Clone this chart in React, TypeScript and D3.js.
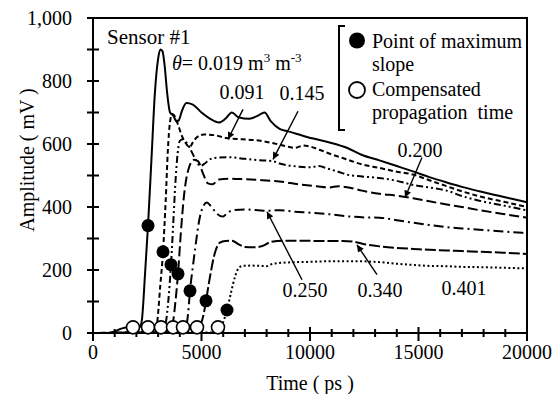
import React from 'react';
import * as d3 from 'd3';

// ---- data (time in ps, amplitude in mV) ----
const xTickLabels = [0, 5000, 10000, 15000, 20000];
const yTickLabels = [0, 200, 400, 600, 800, 1000];

const s019: [number, number][] = [[0,0],[600,0],[1000,5],[1300,14],[1700,18],[2150,18],[2250,40],[2400,190],[2535,341],[2700,560],[2850,760],[3000,870],[3100,900],[3200,895],[3300,850],[3420,760],[3550,700],[3700,690],[3850,672],[3950,675],[4100,705],[4300,730],[4600,725],[5000,700],[5400,680],[5800,668],[6100,680],[6400,700],[6700,685],[7200,680],[7600,690],[7900,700],[8200,672],[8600,648],[9000,640],[9400,632],[10100,618],[10900,605],[11700,588],[12400,565],[13200,548],[14000,530],[14750,513],[15500,495],[16300,478],[17000,464],[17800,450],[18600,437],[19300,426],[20000,415]];
const s091: [number, number][] = [[0,0],[1500,2],[2500,3],[2850,5],[2950,30],[3100,150],[3226,258],[3350,420],[3450,580],[3550,670],[3650,695],[3750,690],[3900,665],[4100,625],[4300,600],[4450,590],[4600,605],[4800,622],[5100,630],[5600,628],[6200,618],[6900,615],[7500,612],[7900,608],[8600,598],[9300,588],[9700,595],[10000,592],[10500,580],[11000,567],[11700,551],[12400,535],[13200,524],[14000,512],[14750,503],[15500,485],[16300,466],[17000,450],[17800,434],[18900,417],[20000,400]];
const s145: [number, number][] = [[0,0],[3200,2],[3350,30],[3480,110],[3594,217],[3700,350],[3800,480],[3900,570],[4000,610],[4150,615],[4350,600],[4550,575],[4750,548],[4950,530],[5150,538],[5400,552],[5800,557],[6300,558],[7000,553],[7600,549],[8300,545],[8600,538],[9500,528],[10000,526],[10400,530],[10800,522],[11300,512],[11700,503],[12400,497],[13200,492],[14000,483],[14750,470],[15500,462],[16300,452],[17000,435],[17800,420],[18900,405],[20000,389]];
const s200: [number, number][] = [[0,0],[3550,2],[3700,40],[3800,100],[3917,188],[4050,320],[4200,440],[4400,520],[4650,550],[4850,545],[5050,510],[5300,475],[5500,472],[5800,487],[6300,490],[7000,488],[7800,485],[8600,481],[9500,472],[10300,466],[10900,462],[11300,466],[11700,463],[12400,452],[13200,442],[14000,436],[14750,428],[15500,418],[16300,408],[17000,400],[17800,390],[18900,378],[20000,366]];
const s250: [number, number][] = [[0,0],[4200,2],[4300,20],[4380,60],[4470,134],[4600,210],[4700,264],[4930,370],[5100,405],[5250,414],[5400,405],[5600,388],[5850,372],[6000,370],[6200,382],[6500,390],[7000,392],[7600,390],[8000,388],[8600,390],[9300,385],[10000,382],[10900,377],[11800,370],[12500,367],[13200,366],[14000,358],[14750,350],[15500,343],[16300,336],[17000,332],[17800,328],[18900,322],[20000,317]];
const s340: [number, number][] = [[0,0],[4800,2],[4950,25],[5100,60],[5207,102],[5390,178],[5620,255],[5850,287],[6100,292],[6400,293],[6700,282],[7000,273],[7400,272],[7800,276],[8200,289],[8800,293],[9500,293],[10500,292],[11500,292],[12000,290],[12500,282],[13200,275],[14000,270],[14750,267],[15500,264],[16300,262],[17000,260],[17800,258],[18900,255],[20000,251]];
const s401: [number, number][] = [[0,0],[5600,2],[5850,10],[6000,35],[6175,73],[6350,125],[6550,180],[6700,205],[6900,213],[7300,214],[7700,213],[8000,212],[8200,218],[8500,222],[9000,224],[10000,226],[11000,228],[12000,228],[13200,225],[14000,220],[14750,216],[15500,213],[16300,212],[17000,210],[17800,209],[18900,207],[20000,205]];

const maxSlopeTime = [2535, 3226, 3594, 3917, 4470, 5207, 6175];
const maxSlopeAmp = [341, 258, 217, 188, 134, 102, 73];
const propTime = [1843, 2535, 3134, 3687, 4147, 4793, 5760];
const propAmp = [18, 18, 18, 18, 18, 18, 18];

// annotations: label position and arrow (tail -> tip) in data units
const annLabels = ['0.091', '0.145', '0.200', '0.250', '0.340', '0.401'];
const annLabelT = [6866, 9631, 15069, 9770, 13226, 17097];
const annLabelV = [742, 739, 560, 115, 115, 121];
const arrowTailT = [6912, 9447, 15161, 9631, 13088, null];
const arrowTailV = [710, 704, 557, 169, 185, null];
const arrowTipT = [6221, 8295, 14378, 8018, 12166, null];
const arrowTipV = [615, 551, 430, 385, 280, null];

const seriesList = [s019, s091, s145, s200, s250, s340, s401];
const dashes = ['', '5,3', '7,3,2,3,2,3', '10,4', '10,4,2,4', '11,3', '2,2.5'];

const FONT = 'Liberation Serif';

export default function App() {
  const W = 552, H = 394;
  const x = d3.scaleLinear().domain([0, 20000]).range([93, 527]);
  const y = d3.scaleLinear().domain([0, 1000]).range([333, 18]);
  const line = d3.line<[number, number]>().x(d => x(d[0])).y(d => y(d[1])).curve(d3.curveMonotoneX);

  const minorX = d3.range(0, 20001, 1000);
  const yTicks = d3.range(0, 1001, 100);

  return (
    <svg width={W} height={H} style={{ position: 'absolute', left: 0, top: 0, background: '#fff' }}>
      <defs>
        <marker id="ah" viewBox="0 0 10 10" refX="10" refY="5" markerWidth="10" markerHeight="7" markerUnits="userSpaceOnUse" orient="auto">
          <path d="M0,0 L10,5 L0,10 z" fill="#000" />
        </marker>
      </defs>
      <rect x={0} y={0} width={W} height={H} fill="#fff" />

      {/* curves */}
      {seriesList.map((s, i) => (
        <path key={i} d={line(s) || ''} fill="none" stroke="#000" strokeWidth={2} strokeDasharray={dashes[i] || undefined} />
      ))}

      {/* frame */}
      <path d={`M${x(0)},${y(1000)} H${x(20000)} V${y(0)} H${x(0)} Z`} fill="none" stroke="#000" strokeWidth={2} />

      {/* x ticks */}
      {minorX.map(t => {
        const major = t % 5000 === 0;
        return <line key={t} x1={x(t)} x2={x(t)} y1={y(0) - (major ? 6 : 4)} y2={y(0) + (major ? 8 : 4)} stroke="#000" strokeWidth={2} />;
      })}
      {xTickLabels.map(t => (
        <text key={t} x={x(t)} y={359} textAnchor="middle" fontSize={20} fontFamily={FONT}>{t}</text>
      ))}
      {/* y ticks */}
      {yTicks.map(v => (
        <line key={v} x1={x(0) - 6} x2={x(0) + 6} y1={y(v)} y2={y(v)} stroke="#000" strokeWidth={2} />
      ))}
      {yTickLabels.map(v => (
        <text key={v} x={72} y={y(v) + 7} textAnchor="end" fontSize={20} fontFamily={FONT}>{d3.format(',')(v)}</text>
      ))}

      {/* axis titles */}
      <text x={310} y={390} textAnchor="middle" fontSize={20} fontFamily={FONT}>Time ( ps )</text>
      <text transform={`translate(34,160) rotate(-90)`} textAnchor="middle" fontSize={20} fontFamily={FONT}>Amplitude ( mV )</text>

      {/* markers */}
      {propTime.map((t, i) => (
        <circle key={'o' + i} cx={x(t)} cy={y(propAmp[i])} r={6.5} fill="#fff" stroke="#000" strokeWidth={1.6} />
      ))}
      {maxSlopeTime.map((t, i) => (
        <circle key={'f' + i} cx={x(t)} cy={y(maxSlopeAmp[i])} r={6.5} fill="#000" />
      ))}

      {/* annotations */}
      <text x={x(645)} y={y(917)} fontSize={21} fontFamily={FONT}>Sensor #1</text>
      <text x={x(3641)} y={y(834)} fontSize={20} fontFamily={FONT}>
        <tspan fontStyle="italic">θ</tspan>
        <tspan>= 0.019 m</tspan>
        <tspan fontSize={13} dy={-8}>3</tspan>
        <tspan dy={8}> m</tspan>
        <tspan fontSize={13} dy={-8}>-3</tspan>
      </text>
      {annLabels.map((lab, i) => (
        <g key={lab}>
          <text x={x(annLabelT[i])} y={y(annLabelV[i])} textAnchor="middle" fontSize={20} fontFamily={FONT}>{lab}</text>
          {arrowTailT[i] !== null && (
            <line x1={x(arrowTailT[i] as number)} y1={y(arrowTailV[i] as number)} x2={x(arrowTipT[i] as number)} y2={y(arrowTipV[i] as number)} stroke="#000" strokeWidth={1.4} markerEnd="url(#ah)" />
          )}
        </g>
      ))}

      {/* legend */}
      <rect x={336} y={22} width={190} height={112} fill="#fff" />
      <path d="M345,26 H339 V130 H345" fill="none" stroke="#000" strokeWidth={2} />
      <circle cx={357} cy={40.5} r={8} fill="#000" />
      <circle cx={357} cy={90} r={8} fill="#fff" stroke="#000" strokeWidth={1.8} />
      <text x={372} y={47.5} fontSize={20} fontFamily={FONT}>Point of maximum</text>
      <text x={372} y={71} fontSize={20} fontFamily={FONT}>slope</text>
      <text x={372} y={96} fontSize={20} fontFamily={FONT}>Compensated</text>
      <text x={372} y={119} fontSize={20} fontFamily={FONT} xmlSpace="preserve">propagation  time</text>
    </svg>
  );
}
